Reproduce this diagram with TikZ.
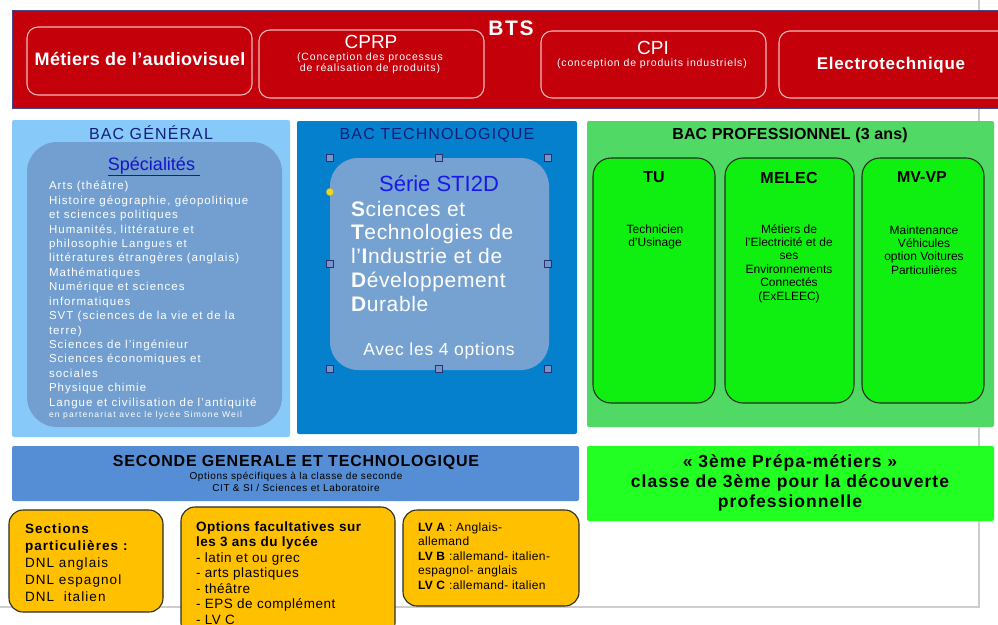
\documentclass[tikz,border=0pt]{standalone}
\usepackage{fontspec}
\setmainfont{Liberation Sans}
\newcommand\fsz[2]{\fontsize{#1}{#2}\selectfont}
\newcommand\lsp[1]{\addfontfeature{LetterSpace=#1}}
\definecolor{btsred}{RGB}{196,0,11}
\definecolor{btsborder}{RGB}{70,70,140}
\definecolor{btsline}{RGB}{240,185,185}
\definecolor{genblue}{RGB}{135,202,250}
\definecolor{steel}{RGB}{114,159,207}
\definecolor{steeltwo}{RGB}{118,162,210}
\definecolor{techblue}{RGB}{5,128,205}
\definecolor{navy}{RGB}{20,30,120}
\definecolor{specblue}{RGB}{20,20,200}
\definecolor{stiblue}{RGB}{25,25,230}
\definecolor{progreen}{RGB}{80,217,100}
\definecolor{boxgreen}{RGB}{16,240,16}
\definecolor{prepgreen}{RGB}{34,255,34}
\definecolor{secblue}{RGB}{85,142,213}
\definecolor{boxorange}{RGB}{255,192,0}
\definecolor{framegray}{RGB}{205,205,205}
\definecolor{darkline}{RGB}{40,45,30}
\definecolor{handlefill}{RGB}{120,150,205}
\definecolor{handleline}{RGB}{40,50,110}
\definecolor{yellowdot}{RGB}{235,215,40}
\begin{document}
\begin{tikzpicture}[x=1pt,y=-1pt,
  area/.style={rectangle, inner sep=0pt, outer sep=0pt, anchor=north west},
  panel/.style={area, rounded corners=2pt},
  btsbox/.style={area, rounded corners=11pt, draw=btsline, line width=1.1pt},
  probox/.style={area, rounded corners=18pt, fill=boxgreen, draw=darkline, line width=1.1pt},
  orbox/.style={area, rounded corners=14pt, fill=boxorange, draw=darkline, line width=1.1pt},
  txt/.style={inner sep=0pt, outer sep=0pt},
  handle/.style={rectangle, draw=handleline, fill=handlefill, line width=0.6pt, minimum size=7pt, inner sep=0pt},
]
\useasboundingbox (0,0) rectangle (998,624);
% page frame
\coordinate (ftop) at (979,0);
\coordinate (fcorner) at (979,607);
\coordinate (fleft) at (0,607);
\draw[framegray, line width=1.3pt] (ftop) -- (fcorner) -- (fleft);

% ---------- BTS band
\node[area, fill=btsred, draw=btsborder, line width=0.8pt, minimum width=990pt, minimum height=98pt] (bts) at (12,10) {};
\node[txt, anchor=base, text=white, font=\bfseries\fsz{21}{24}\lsp{8}] (btstitle) at (511,35) {BTS};
\node[btsbox, minimum width=225pt, minimum height=68pt] (b1) at (27,27) {};
\node[btsbox, minimum width=225pt, minimum height=68pt] (b2) at (259,30) {};
\node[btsbox, minimum width=225pt, minimum height=67pt] (b3) at (541,31) {};
\node[btsbox, minimum width=230pt, minimum height=67pt] (b4) at (779,31) {};
\node[txt, anchor=base, text=white, font=\bfseries\fsz{18}{20}\lsp{2}] (t1) at (140,65) {Métiers de l’audiovisuel};
\node[txt, anchor=base, text=white, font=\fsz{19}{21}] (t2) at (371,48) {CPRP};
\node[txt, align=center, text=white, font=\fsz{10.5}{9.5}\lsp{8}] (t2s) at (370,63.5) {(Conception des processus\\de réalisation de produits)};
\node[txt, anchor=base, text=white, font=\fsz{19}{21}] (t3) at (653,54) {CPI};
\node[txt, text=white, font=\fsz{10.5}{11}\lsp{8}] (t3s) at (652,63.5) {(conception de produits industriels)};
\node[txt, anchor=base, text=white, font=\bfseries\fsz{17}{20}\lsp{4}] (t4) at (891,69) {Electrotechnique};

% ---------- BAC GENERAL
\node[panel, fill=genblue, minimum width=278pt, minimum height=317pt] (gen) at (12,120) {};
\node[area, fill=steel, rounded corners=30pt, minimum width=255pt, minimum height=285pt] (geninner) at (27,142) {};
\node[txt, anchor=base, text=navy, font=\fsz{16}{18}\lsp{7}] (gentitle) at (151,139) {BAC GÉNÉRAL};
\node[txt, anchor=base, text=specblue, font=\fsz{18}{20}] (spec) at (154,170) {\underline{Spécialités\ }};
\node[txt, anchor=west, align=left, text=white, font=\fsz{11.5}{14.43}\lsp{9}] (speclist) at (49,295) {Arts (théâtre)\\
Histoire géographie, géopolitique\\
et sciences politiques\\
Humanités, littérature et\\
philosophie Langues et\\
littératures étrangères (anglais)\\
Mathématiques\\
Numérique et sciences\\
informatiques\\
SVT (sciences de la vie et de la\\
terre)\\
Sciences de l’ingénieur\\
Sciences économiques et\\
sociales\\
Physique chimie\\
Langue et civilisation de l’antiquité};
\node[txt, anchor=base west, text=white, font=\fsz{8.5}{10}\lsp{14}] (specnote) at (49,417) {en partenariat avec le lycée Simone Weil};

% ---------- BAC TECHNOLOGIQUE
\node[panel, fill=techblue, minimum width=280pt, minimum height=313pt] (tech) at (297,121) {};
\node[txt, anchor=base, text=navy, font=\fsz{16}{18}\lsp{7}] (techtitle) at (437,139) {BAC TECHNOLOGIQUE};
\node[area, fill=steeltwo, rounded corners=28pt, minimum width=219pt, minimum height=212pt] (sti) at (330,158) {};
\node[txt, anchor=base, text=stiblue, font=\fsz{22}{24}] (stititle) at (439,191) {Série STI2D};
\node[txt, anchor=west, align=left, text=white, font=\fsz{21}{23.75}\lsp{3}] (stitext) at (351,256) {\textbf{S}ciences et\\
\textbf{T}echnologies de\\
l’\textbf{I}ndustrie et de\\
\textbf{D}éveloppement\\
\textbf{D}urable};
\node[txt, anchor=base, text=white, font=\fsz{17.5}{20}\lsp{4}] (stiopt) at (439,355) {Avec les 4 options};
\node[handle] (h1) at (330,158) {};
\node[handle] (h2) at (439,158) {};
\node[handle] (h3) at (548,158) {};
\node[handle] (h4) at (330,264) {};
\node[handle] (h5) at (548,264) {};
\node[handle] (h6) at (330,369) {};
\node[handle] (h7) at (439,369) {};
\node[handle] (h8) at (548,369) {};
\node[circle, fill=yellowdot, draw=yellowdot!80!black, line width=0.4pt, minimum size=7.5pt, inner sep=0pt] (ydot) at (330,192) {};

% ---------- BAC PRO
\node[panel, fill=progreen, minimum width=407pt, minimum height=306pt] (pro) at (587,121) {};
\node[txt, anchor=base, font=\bfseries\fsz{16}{18}\lsp{1}] (protitle) at (790,139) {BAC PROFESSIONNEL (3 ans)};
\node[probox, minimum width=122pt, minimum height=245pt] (tu) at (593,158) {};
\node[probox, minimum width=129pt, minimum height=245pt] (melec) at (725,158) {};
\node[probox, minimum width=122pt, minimum height=245pt] (mvvp) at (862,158) {};
\node[txt, anchor=base, font=\bfseries\fsz{16}{18}] (tut) at (654,182) {TU};
\node[txt, anchor=base, font=\bfseries\fsz{16}{18}\lsp{2}] (melect) at (789,183) {MELEC};
\node[txt, anchor=base, font=\bfseries\fsz{16}{18}] (mvvpt) at (922,182) {MV-VP};
\node[txt, align=center, font=\fsz{12}{13.5}] (tub) at (655,237) {Technicien\\d’Usinage};
\node[txt, align=center, font=\fsz{12}{13.4}] (melecb) at (789,263.5) {Métiers de\\l’Electricité et de\\ses\\Environnements\\Connectés\\(ExELEEC)};
\node[txt, align=center, font=\fsz{12}{13.4}] (mvvpb) at (924,250) {Maintenance\\Véhicules\\option Voitures\\Particulières};

% ---------- SECONDE
\node[panel, fill=secblue, minimum width=567pt, minimum height=55pt] (sec) at (12,446) {};
\node[txt, anchor=base, font=\bfseries\fsz{16}{18}\lsp{5}] (sectitle) at (296,466) {SECONDE GENERALE ET TECHNOLOGIQUE};
\node[txt, align=center, font=\fsz{10}{11.5}\lsp{6}] (secsub) at (296,482) {Options spécifiques à la classe de seconde\\CIT \& SI / Sciences et Laboratoire};

% ---------- 3eme prepa
\node[panel, fill=prepgreen, minimum width=407pt, minimum height=75pt] (prep) at (587,446) {};
\node[txt, align=center, font=\bfseries\fsz{17.5}{20.3}\lsp{6}] (preptext) at (790,483) {« 3ème Prépa-métiers »\\classe de 3ème pour la découverte\\professionnelle};

% ---------- orange boxes
\node[orbox, minimum width=154pt, minimum height=102pt] (or1) at (9,510) {};
\node[orbox, minimum width=214pt, minimum height=130pt] (or2) at (181,507) {};
\node[orbox, minimum width=176pt, minimum height=96pt] (or3) at (403,510) {};
\node[txt, anchor=west, align=left, font=\fsz{13.5}{17}\lsp{8}] (or1t) at (25,563) {\textbf{Sections}\\\textbf{particulières :}\\DNL anglais\\DNL espagnol\\DNL~~italien};
\node[txt, anchor=west, align=left, font=\fsz{13.5}{15.5}\lsp{4}] (or2t) at (196,573) {\textbf{Options facultatives sur}\\\textbf{les 3 ans du lycée}\\- latin et ou grec\\- arts plastiques\\- théâtre\\- EPS de complément\\- LV C};
\node[txt, anchor=west, align=left, font=\fsz{12}{14.5}\lsp{3}] (or3t) at (418,556) {\textbf{LV A} : Anglais-\\allemand\\\textbf{LV B} :allemand- italien-\\espagnol- anglais\\\textbf{LV C} :allemand- italien};
\end{tikzpicture}
\end{document}
